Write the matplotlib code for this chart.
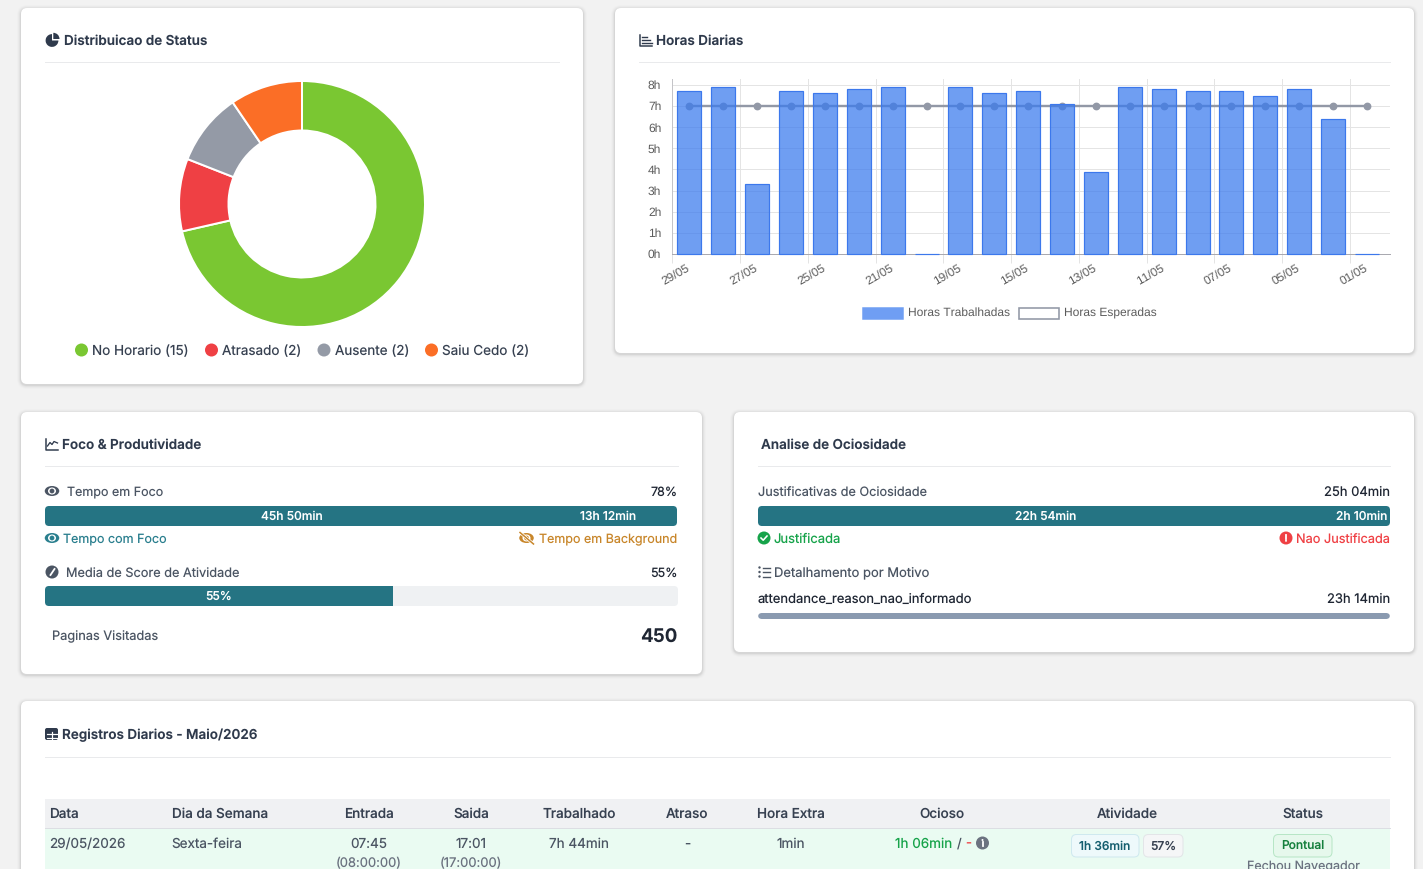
#!/usr/bin/env python3
import matplotlib
matplotlib.use("Agg")
import matplotlib.pyplot as plt
from matplotlib.patches import Circle, Ellipse, FancyBboxPatch, Rectangle, Wedge
from matplotlib.transforms import ScaledTranslation

W, H = 1423, 869
PT = 72 / 100  # one pixel in points at dpi 100

status_labels = ["No Horario (15)", "Atrasado (2)", "Ausente (2)", "Saiu Cedo (2)"]
status_counts = [15, 2, 2, 2]
status_colors = ["#7ac732", "#ef4044", "#949aa6", "#fb6e26"]

day_labels = ["29/05", "28/05", "27/05", "26/05", "25/05", "22/05", "21/05", "20/05", "19/05", "18/05", "15/05",
              "14/05", "13/05", "12/05", "11/05", "08/05", "07/05", "06/05", "05/05", "04/05", "01/05"]
hours_worked = [7.7, 7.9, 3.3, 7.7, 7.6, 7.8, 7.9, 0, 7.9, 7.6, 7.7,
                7.1, 3.9, 7.9, 7.8, 7.7, 7.7, 7.5, 7.8, 6.4, 0]
hours_expected = [7] * 21
hour_ticks = [0, 1, 2, 3, 4, 5, 6, 7, 8]

focus_minutes = [45 * 60 + 50, 13 * 60 + 12]
focus_labels = ["45h 50min", "13h 12min"]
score_pct = 55
idle_minutes = [22 * 60 + 54, 2 * 60 + 10]
idle_labels = ["22h 54min", "2h 10min"]

table_header = ["Entrada", "Saida", "Trabalhado", "Atraso", "Hora Extra", "Ocioso", "Atividade", "Status"]
table_row = ["07:45", "17:01", "7h 44min", "-", "1min"]

TEAL = "#257483"
TITLE = "#2f3a4c"
BODY = "#4b5563"
DARK = "#1f2633"
LINE = "#e9eaec"

plt.rcParams["font.family"] = ["Inter", "DejaVu Sans"]
plt.rcParams["text.hinting"] = "no_hinting"
plt.rcParams["text.hinting_factor"] = 1

fig = plt.figure(figsize=(W / 100, H / 100), dpi=100, facecolor="#f2f2f2")
bg = fig.add_axes([0, 0, 1, 1], zorder=0)
fg = fig.add_axes([0, 0, 1, 1], zorder=5)
for page in (bg, fg):
    page.set_xlim(0, W)
    page.set_ylim(H, 0)
    page.axis("off")


def rounded(x0, y0, x1, y1, r, **kw):
    return FancyBboxPatch((x0, y0), x1 - x0, y1 - y0, boxstyle=f"round,pad=0,rounding_size={r}", **kw)


def card(x0, y0, x1, y1):
    for grow, alpha in [(4, 0.012), (3, 0.018), (2, 0.03), (1, 0.05)]:
        bg.add_patch(rounded(x0 - grow, y0 - grow + 1, x1 + grow, y1 + grow + 1, 6 + grow,
                             fc="black", ec="none", alpha=alpha))
    bg.add_patch(rounded(x0, y0, x1, y1, 6, fc="white", ec="none"))


def label(x, y, s, size=13, color=BODY, ha="left", weight="normal", **kw):
    return fg.text(x, y, s, fontsize=size * PT, color=color, ha=ha, va="center_baseline", weight=weight, **kw)


def title(x, y, s):
    label(x, y - 0.5, s, size=13.5, color=TITLE, weight="semibold")


def divider(x0, x1, y):
    bg.plot([x0, x1], [y, y], color=LINE, lw=1 * PT)


def px_axes(x0, y0, x1, y1):
    return fig.add_axes([x0 / W, 1 - y1 / H, (x1 - x0) / W, (y1 - y0) / H], zorder=2)


def eye_icon(x, y, color):
    bg.add_patch(Ellipse((x, y), 14.5, 10, fc=color, ec="none"))
    bg.add_patch(Ellipse((x, y), 8, 7, fc="white", ec="none"))
    bg.add_patch(Circle((x, y), 2.4, fc=color, ec="none"))


def badge(x, y, color, mark):
    bg.add_patch(Circle((x, y), 6.5, fc=color, ec="none"))
    if mark == "check":
        bg.plot([x - 3, x - 0.8, x + 3], [y, y + 2.2, y - 2], color="white", lw=1.6 * PT)
    elif mark == "alert":
        bg.plot([x, x], [y - 3.4, y + 0.6], color="white", lw=1.8 * PT)
        bg.add_patch(Circle((x, y + 2.8), 1, fc="white", ec="none"))
    elif mark == "info":
        bg.plot([x, x], [y - 0.8, y + 3.2], color="white", lw=1.8 * PT)
        bg.add_patch(Circle((x, y - 3), 1, fc="white", ec="none"))
    else:
        bg.plot([x - 1.5, x + 2.5], [y + 3, y - 3], color="white", lw=1.8 * PT)


def axes_icon(x, y, w, h, color=TITLE):
    bg.plot([x, x, x + w], [y, y + h, y + h], color=color, lw=1.5 * PT)


def progress(x0, x1, y0, y1, values, total, color, track=None):
    # one stacked bar on its own axes, clipped to a rounded outline
    ax = px_axes(x0, y0, x1, y1)
    ax.set_xlim(0, total)
    ax.set_ylim(-0.5, 0.5)
    ax.axis("off")
    outline = rounded(x0, y0, x1, y1, 4, transform=bg.transData)
    bars = []
    if track:
        bars.append(ax.barh(0, total, height=1, color=track, linewidth=0)[0])
    left = 0
    for v in values:
        bars.append(ax.barh(0, v, left=left, height=1, color=color, linewidth=0)[0])
        left += v
    for bar in bars:
        bar.set_clip_path(outline)
    return ax


# page cards
card(21, 8, 583, 384)
card(615, 8, 1414, 353)
card(21, 412, 702, 674)
card(734, 412, 1414, 652)
card(21, 701, 1414, 900)

# status donut
bg.add_patch(Wedge((52, 40.5), 6.4, 0, 270, fc=TITLE, ec="none"))
bg.add_patch(Wedge((53.3, 39), 6.2, -90, 0, fc=TITLE, ec="none"))
title(63.5, 40, "Distribuicao de Status")
divider(45, 559, 62)

donut = px_axes(178, 80, 426, 328)
donut.pie(status_counts, colors=status_colors, startangle=90, counterclock=False, radius=123,
          wedgeprops={"width": 49.5, "edgecolor": "white", "linewidth": 2 * PT})
donut.set_xlim(-124, 124)
donut.set_ylim(-124, 124)

for x_dot, x_txt, text, color in zip([81.5, 211.5, 324, 431.5], [92, 222.5, 335, 442.5], status_labels, status_colors):
    bg.add_patch(Circle((x_dot, 350), 6.5, fc=color, ec="none"))
    label(x_txt, 350, text, size=13.5, color="#374151")

# daily hours chart
axes_icon(639.5, 35, 12.5, 10.5)
for yy, xe in [(37, 647), (40, 650), (43, 652)]:
    bg.plot([642, xe], [yy, yy], color=TITLE, lw=1.4 * PT)
title(655.5, 40, "Horas Diarias")
divider(639, 1390, 62)

AX_L, AX_R, AX_T, AX_B = 672.4, 1390, 79, 254
step = (254 - 85) / 8
slot = 33.88
hours = px_axes(AX_L, AX_T, AX_R, AX_B)
hours.patch.set_alpha(0)
n = len(day_labels)
positions = list(range(n))
hours.set_xlim(-0.5, (AX_R - AX_L) / slot - 0.5)
hours.set_ylim(0, (AX_B - AX_T) / step)
hours.plot(positions, hours_expected, color="#9298a6", lw=2.4 * PT, marker="o", ms=6.4 * PT, zorder=2, clip_on=False)
hours.bar(positions, hours_worked, width=24 / slot, facecolor="#3a7aeeba", edgecolor="#3c78ec", linewidth=1.2 * PT,
          zorder=3, clip_on=False)
hours.set_yticks(hour_ticks, [f"{h}h" for h in hour_ticks])
hours.set_xticks(positions[::2], day_labels[::2], rotation=30, ha="right", va="top", rotation_mode="anchor",
                 family=["Liberation Sans"])
hours.set_xticks([p - 0.5 for p in positions[::2]], minor=True)
hours.tick_params(axis="x", which="major", length=0, pad=6, labelsize=12.3 * PT, labelcolor="#5c5c5c")
hours.tick_params(axis="x", which="minor", length=9 * PT, width=1 * PT, color="#e4e4e4")
hours.tick_params(axis="y", length=0, pad=8, labelsize=12.3 * PT, labelcolor="#5c5c5c")
shift_left = ScaledTranslation(-3 / 100, 0, fig.dpi_scale_trans)
for lab in hours.get_xticklabels():
    lab.set_transform(lab.get_transform() + shift_left)
for lab in hours.get_yticklabels():
    lab.set_family(["Liberation Sans"])
hours.grid(axis="y", color="#e4e4e4", lw=1 * PT, zorder=0)
hours.grid(axis="x", which="minor", color="#e4e4e4", lw=1 * PT, zorder=0)
hours.set_axisbelow(True)
for side in ("top", "right"):
    hours.spines[side].set_visible(False)
hours.spines["left"].set_color("#c4c4c8")
hours.spines["bottom"].set_color("#a9a9b0")
for side in ("left", "bottom"):
    hours.spines[side].set_linewidth(1 * PT)

bg.add_patch(Rectangle((862.5, 307.5), 40, 11.5, fc="#6f9ef3", ec="#6f9ef3", lw=1.5 * PT))
bg.text(908, 313, "Horas Trabalhadas", fontsize=12 * PT, color="#5c5c5c", va="center", family=["Liberation Sans"])
bg.add_patch(Rectangle((1018.5, 307.5), 40, 11.5, fc="white", ec="#9298a6", lw=1.6 * PT))
bg.text(1064.5, 313, "Horas Esperadas", fontsize=12 * PT, color="#5c5c5c", va="center", family=["Liberation Sans"])

# focus and productivity
axes_icon(45.5, 438.5, 12.5, 11)
bg.plot([47.5, 50, 52, 54, 57.5], [446, 442.5, 444.5, 441.5, 443], color=TITLE, lw=1.3 * PT)
title(62, 444, "Foco & Produtividade")
divider(45, 678, 466)

eye_icon(52, 491, BODY)
label(67, 491, "Tempo em Foco", size=12.5)
label(677.5, 491, "78%", size=12.5, color=DARK, ha="right")
progress(45, 677, 506, 526, focus_minutes, sum(focus_minutes), TEAL)
label(292, 515.4, focus_labels[0], size=12, color="white", ha="center", weight="medium")
label(608, 515.4, focus_labels[1], size=12, color="white", ha="center", weight="medium")
eye_icon(52, 538, "#2a7f8e")
label(63, 538, "Tempo com Foco", size=12.5, color="#2a7f8e")
eye_icon(526.5, 538, "#c8862a")
bg.plot([520, 533.5], [532.5, 544], color="white", lw=3 * PT)
bg.plot([520, 533.5], [532.5, 544], color="#c8862a", lw=1.5 * PT)
label(677.5, 538.6, "Tempo em Background", size=12.5, color="#c8862a", ha="right")

badge(52, 572, BODY, "gauge")
label(65.5, 572.6, "Media de Score de Atividade", size=12.75)
label(677.5, 572, f"{score_pct}%", size=12.5, color=DARK, ha="right")
progress(45, 678, 586, 606, [score_pct], 100, TEAL, track="#eff1f3")
label(219, 595.4, f"{score_pct}%", size=12, color="white", ha="center", weight="medium")
label(52.5, 635, "Paginas Visitadas", size=12.8)
label(677.5, 635.7, "450", size=18.8, color=DARK, ha="right", weight="bold")

# idle analysis
title(761, 444, "Analise de Ociosidade")
divider(758, 1390, 466)
label(758, 491.6, "Justificativas de Ociosidade", size=12.7)
label(1390, 491, "25h 04min", color=DARK, ha="right")
progress(758, 1390, 506, 526, idle_minutes, sum(idle_minutes), TEAL)
label(1045.5, 515.4, idle_labels[0], size=12, color="white", ha="center", weight="medium")
label(1387, 515.4, idle_labels[1], size=12, color="white", ha="right", weight="medium")
badge(764, 538, "#16a34a", "check")
label(774, 538, "Justificada", color="#16a34a")
badge(1286, 538, "#ef4044", "alert")
label(1390, 538.6, "Nao Justificada", size=12.75, color="#ef4044", ha="right")
for yy in (567.5, 572, 576.5):
    bg.add_patch(Circle((759.5, yy), 1.2, fc=BODY, ec="none"))
    bg.plot([763, 770], [yy, yy], color=BODY, lw=1.4 * PT)
label(773.5, 571.5, "Detalhamento por Motivo")
label(758, 598, "attendance_reason_nao_informado", color=DARK)
label(1390, 598, "23h 14min", color=DARK, ha="right")
progress(758, 1390, 613, 619, [100], 100, "#8a9ab0")

# daily records table
bg.add_patch(rounded(45, 728, 58, 740, 2, fc=TITLE, ec="none"))
bg.plot([46.5, 56.5], [734, 734], color="white", lw=1.2 * PT)
bg.plot([46.5, 56.5], [737.5, 737.5], color="white", lw=1.2 * PT)
bg.plot([51.5, 51.5], [731.5, 739], color="white", lw=1.2 * PT)
title(62, 734, "Registros Diarios - Maio/2026")
divider(45, 1390, 757)

bg.add_patch(Rectangle((45, 799), 1345, 29, fc="#f0f1f3", ec="none"))
bg.add_patch(Rectangle((45, 829), 1345, 45, fc="#eafbf2", ec="none"))
bg.plot([45, 1390], [828, 828], color="#dcdee3", lw=1 * PT)
label(49.5, 813, "Data", size=13.5, color="#374151", weight="medium")
label(172, 813, "Dia da Semana", size=13.5, color="#374151", weight="medium")
for x, text in zip([368.5, 471, 579, 687, 791, 942, 1127, 1303], table_header):
    label(x, 813, text, size=13.5, color="#374151", ha="center", weight="medium")
label(49.5, 843, "29/05/2026", size=13.5)
label(171.5, 843, "Sexta-feira", size=13.5)
for x, text in zip([368.5, 471, 579, 687, 791], table_row):
    label(x, 843, text, size=13.5, ha="center")
label(368.5, 862, "(08:00:00)", ha="center", color="#6b7280")
label(471, 862, "(17:00:00)", ha="center", color="#6b7280")
label(895, 843, "1h 06min", size=13.5, color="#16a34a")
label(956.5, 843, "/", color=BODY)
label(965.5, 843, "-", color="#ef4044")
badge(982.5, 843, "#6b7280", "info")

bg.add_patch(rounded(1071.5, 834.5, 1139, 857, 5, fc="#eef9fb", ec="#cfe9ef", lw=1 * PT))
label(1105, 845.4, "1h 36min", size=12, color="#155e6e", ha="center", weight="medium")
bg.add_patch(rounded(1143.5, 834.5, 1183, 857, 5, fc="#f5f6f7", ec="#e3e5e8", lw=1 * PT))
label(1163, 845.4, "57%", size=12, color="#374151", ha="center", weight="medium")
bg.add_patch(rounded(1273.5, 834.5, 1332, 857, 5, fc="#e6f8ec", ec="#b7e6c6", lw=1 * PT))
label(1303, 845.4, "Pontual", size=12, color="#15803d", ha="center", weight="medium")
label(1303, 866, "Fechou Navegador", size=12.5, color="#6b7280", ha="center")

fig.savefig("out.png", dpi=100, facecolor=fig.get_facecolor())
